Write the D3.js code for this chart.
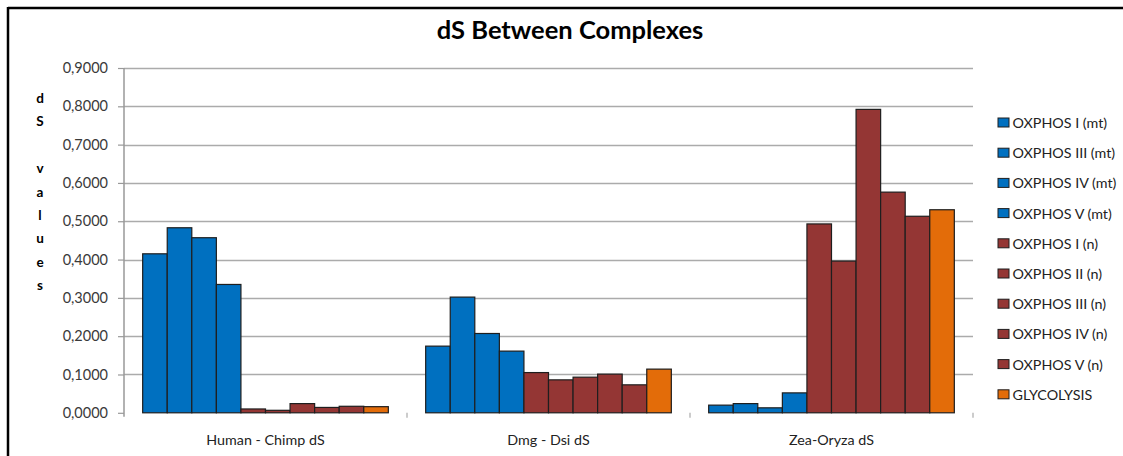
<!DOCTYPE html>
<html><head><meta charset="utf-8">
<script src="https://cdn.jsdelivr.net/npm/d3@7"></script>
<style>
html,body{margin:0;padding:0;background:#fff;}
svg{display:block;font-family:Lato,"Open Sans",sans-serif;}
</style></head>
<body>
<svg id="chart" width="1123" height="456"></svg>
<script>
const categories = ["Human - Chimp dS", "Dmg - Dsi dS", "Zea-Oryza dS"];
const seriesNames = ["OXPHOS I (mt)", "OXPHOS III (mt)", "OXPHOS IV (mt)", "OXPHOS V (mt)",
  "OXPHOS I (n)", "OXPHOS II (n)", "OXPHOS III (n)", "OXPHOS IV (n)", "OXPHOS V (n)", "GLYCOLYSIS"];
const seriesColors = ["#0070C0","#0070C0","#0070C0","#0070C0",
  "#943634","#943634","#943634","#943634","#943634","#E36C09"];
// values per series, in category order
const oxphosI_mt   = [0.415, 0.174, 0.020];
const oxphosIII_mt = [0.483, 0.302, 0.024];
const oxphosIV_mt  = [0.457, 0.207, 0.013];
const oxphosV_mt   = [0.335, 0.161, 0.052];
const oxphosI_n    = [0.010, 0.105, 0.493];
const oxphosII_n   = [0.0065, 0.086, 0.396];
const oxphosIII_n  = [0.024, 0.093, 0.792];
const oxphosIV_n   = [0.014, 0.101, 0.576];
const oxphosV_n    = [0.017, 0.073, 0.513];
const glycolysis   = [0.016, 0.114, 0.530];
const yTicks = [0, 0.1, 0.2, 0.3, 0.4, 0.5, 0.6, 0.7, 0.8, 0.9];
const titleText = "dS Between Complexes";
const yLabelChars = ["d","S"," ","v","a","l","u","e","s"];

const seriesValues = [oxphosI_mt, oxphosIII_mt, oxphosIV_mt, oxphosV_mt,
  oxphosI_n, oxphosII_n, oxphosIII_n, oxphosIV_n, oxphosV_n, glycolysis];

const svg = d3.select("#chart");
const plot = {left:124, right:973, top:68, bottom:412.8};

const y = d3.scaleLinear().domain([0, 0.9]).range([plot.bottom, plot.top]);
const x0 = d3.scaleBand().domain(categories).range([plot.left, plot.right]).padding(0);
const x1 = d3.scaleBand().domain(seriesNames).range([0, x0.bandwidth()]).paddingInner(0).paddingOuter(0.76);

// border
svg.append("line").attr("x1",8).attr("x2",1123).attr("y1",8).attr("y2",8).attr("stroke","#000").attr("stroke-width",2.5);
svg.append("line").attr("x1",8).attr("x2",8).attr("y1",7).attr("y2",456).attr("stroke","#000").attr("stroke-width",2.5);

// title
svg.append("text").attr("x",570).attr("y",39).attr("text-anchor","middle")
  .attr("font-size",25.5).attr("font-weight","bold").attr("fill","#000").text(titleText);

// gridlines
svg.append("g").selectAll("line").data(yTicks.filter(d=>d>0)).join("line")
  .attr("x1",plot.left).attr("x2",plot.right)
  .attr("y1",d=>Math.round(y(d))+0.5).attr("y2",d=>Math.round(y(d))+0.5)
  .attr("stroke","#ababab").attr("stroke-width",1.5);

// y axis
const fmt = d => d.toFixed(4).replace(".", ",");
const yAxis = d3.axisLeft(y).tickValues(yTicks).tickFormat(fmt).tickSize(6).tickPadding(10);
const gy = svg.append("g").attr("transform",`translate(${plot.left},0)`).call(yAxis);
gy.select(".domain").attr("stroke","#999").attr("stroke-width",1.5).attr("d",`M-0,${plot.top}V${plot.bottom+4}`);
gy.selectAll(".tick line").attr("stroke","#999").attr("stroke-width",1.2);
gy.selectAll(".tick text").attr("font-size",14.5).attr("fill","#3a3a3a").attr("font-family","Lato,sans-serif");

// x axis (ticks only, no line)
const xBoundaries = [categories[0], categories[1], categories[2]];
svg.append("g").selectAll("line").data(xBoundaries).join("line")
  .attr("x1",d=>x0(d)+x0.bandwidth()).attr("x2",d=>x0(d)+x0.bandwidth())
  .attr("y1",plot.bottom).attr("y2",plot.bottom+5)
  .attr("stroke","#aaa").attr("stroke-width",1.2);
svg.append("g").selectAll("text").data(categories).join("text")
  .attr("x",d=>x0(d)+x0.bandwidth()/2).attr("y",445)
  .attr("text-anchor","middle").attr("font-size",14.3).attr("fill","#222").text(d=>d);

// bars
const groups = svg.append("g").selectAll("g").data(categories).join("g")
  .attr("transform",d=>`translate(${x0(d)},0)`);
groups.selectAll("rect").data((c,ci)=>seriesNames.map((s,si)=>({s,si,v:seriesValues[si][ci]}))).join("rect")
  .attr("x",d=>x1(d.s)).attr("width",x1.bandwidth())
  .attr("y",d=>y(d.v)).attr("height",d=>plot.bottom-y(d.v))
  .attr("fill",d=>seriesColors[d.si]).attr("stroke","#1e1e1e").attr("stroke-width",1.2);

// y label
svg.append("g").selectAll("text").data(yLabelChars).join("text")
  .attr("x",40).attr("y",(d,i)=>103+i*23.4).attr("text-anchor","middle")
  .attr("font-size",13.5).attr("font-weight","bold").attr("fill","#000").text(d=>d);

// legend
const leg = svg.append("g").selectAll("g").data(seriesNames).join("g")
  .attr("transform",(d,i)=>`translate(998,${123+i*30.2})`);
leg.append("rect").attr("x",0).attr("y",-5).attr("width",11).attr("height",9)
  .attr("fill",(d,i)=>seriesColors[i]).attr("stroke","#1e1e1e").attr("stroke-width",1);
leg.append("text").attr("x",14.5).attr("y",5).attr("font-size",14.3).attr("fill","#222").text(d=>d);
</script>
</body></html>
